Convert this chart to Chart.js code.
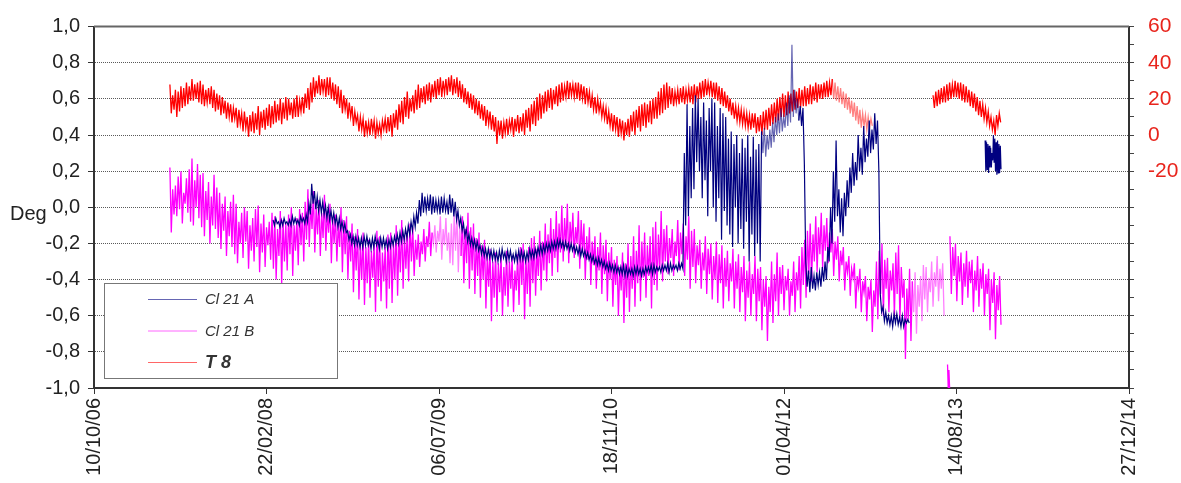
<!DOCTYPE html>
<html>
<head>
<meta charset="utf-8">
<title>Cl 21 A / Cl 21 B / T 8</title>
<script src="https://cdn.jsdelivr.net/npm/chart.js@4.4.1/dist/chart.umd.min.js"></script>
<style>
  html, body { margin: 0; padding: 0; background: #fff; }
  #wrap { position: relative; width: 1181px; height: 483px; }
</style>
</head>
<body>
<div id="wrap"><canvas id="chart"></canvas></div>
<script>
// x axis is days counted from the first tick date
const origin = '2006-10-10';
const xTickLabels = ['10/10/06', '22/02/08', '06/07/09', '18/11/10', '01/04/12', '14/08/13', '27/12/14'];
const rightTickLabels = [-20, 0, 20, 40, 60];
const axisTitle = 'Deg';
const seriesNames = ['Cl 21 A', 'Cl 21 B', 'T 8'];

// each series is read as a high and a low reading per step (8 days unless noted)

// T 8 (right axis)
const t8Start1 = '2007-05-18';
const t8Hi1 = [28,22, 25,24, 27,26, 29,27, 31,28, 29,30, 28,25, 26,27, 25,23, 22,21,
  19,18, 17,15, 15,14, 12,13, 10,11, 13,12, 16,13, 14,15, 17,16, 19,17,
  20,18, 21,20, 18,20, 22,19, 21,23, 26,29, 32,30, 33,31, 31,32, 32,29,
  28,27, 25,22, 20,18, 16,13, 11,10, 9,8, 7,9, 8,7, 6,8, 9,10,
  11,12, 14,17, 19,21, 24,20, 22,25, 28,26, 27,28, 29,28, 30,31, 32,30,
  31,32, 33,31, 32,30, 28,26, 24,23, 22,20, 19,17, 16,14, 13,11, 10,8,
  8,7, 9,8, 10,9, 11,10, 12,14, 15,17, 19,21, 23,22, 24,25, 26,25,
  27,28, 29,27, 30,29, 28,29, 29,28, 27,26, 24,22, 21,20, 18,16, 15,13,
  12,11, 10,9, 8,7, 9,11, 13,14, 16,17, 18,17, 19,20, 21,24, 26,28,
  29,27, 26,24, 25,26, 27,25, 26,27, 28,27, 29,30, 31,29, 30,29, 29,27,
  26,24, 22,20, 18,16, 15,14, 13,12, 11,12, 12,10, 11,13, 14,15, 17,18,
  20,21, 23,22, 24,23, 25,24, 26,25, 27,26, 28,27, 29,28, 28,29, 30,29,
  31,29, 27,26, 24,23, 21,19, 18,16, 14,12, 11,10, 9];
const t8Lo1 = [12,14, 10,13, 15,16, 17,19, 19,20, 18,17, 16,18, 17,15, 13,14, 11,12,
  9,10, 7,9, 4,6, 2,4, -1,2, 1,3, 0,4, 3,5, 4,6, 7,8,
  6,9, 8,11, 9,10, 10,13, 12,15, 14,18, 21,23, 22,24, 21,22, 20,19,
  17,15, 12,14, 9,10, 5,7, 2,3, -1,1, 0,2, -2,1, 0,3, 1,2,
  -1,4, 3,7, 6,10, 9,13, 12,14, 15,18, 17,19, 18,21, 20,22, 21,23,
  22,24, 22,23, 21,20, 18,17, 15,14, 12,11, 9,8, 5,6, 3,2, -5,0,
  -2,1, 0,3, -1,2, 1,2, 0,4, 2,6, 5,8, 9,12, 13,15, 14,17,
  16,18, 19,21, 20,22, 21,20, 19,20, 17,18, 15,14, 12,13, 10,9, 6,5,
  2,3, -1,1, -3,0, -1,2, 0,4, 2,5, 4,7, 6,9, 9,11, 12,14,
  15,17, 16,18, 17,18, 17,19, 18,17, 18,20, 20,21, 22,23, 21,20, 19,17,
  16,15, 13,11, 9,8, 7,6, 5,4, 3,4, 1,2, 0,3, 3,5, 6,7,
  8,10, 10,11, 12,13, 14,15, 15,16, 16,17, 17,19, 18,20, 20,21, 21,22,
  20,19, 18,17, 15,14, 12,10, 8,6, 4,5, 3,4, 5];
const t8Start2 = '2013-06-07';
const t8Hi2 = [22,24, 25,26, 27,28, 29,28, 30,29, 29,28, 27,25, 24,23, 21,19, 17,15, 13,10, 8,11, 12];
const t8Lo2 = [15,16, 17,18, 18,19, 20,21, 21,20, 19,18, 18,16, 15,13, 11,10, 9,7, 5,3, 0,5, 7];

// Cl 21 B
const bStart1 = '2007-05-18';
const bHi1 = [0.22,0.10, 0.12,0.17, 0.20,0.08, 0.16,0.21, 0.27,0.15, 0.24,0.18, 0.19,0.09, 0.14,0.06, 0.18,0.11, 0.08,0.02,
  0.06,-0.02, 0.03,0.07, 0.02,-0.08, -0.03,0.00, -0.02,-0.10, -0.06,-0.01, 0.01,-0.09, -0.04,-0.11, -0.08,-0.03, -0.05,-0.12,
  -0.02,-0.07, -0.09,-0.04, 0.00,-0.10, -0.06,-0.01, -0.03,0.03, 0.10,0.02, 0.09,0.00, 0.04,-0.03, 0.07,-0.02, 0.02,-0.06,
  -0.04,-0.09, 0.00,-0.07, -0.05,-0.13, -0.09,-0.16, -0.12,-0.20, -0.14,-0.22, -0.18,-0.24, -0.20,-0.13, -0.16,-0.25, -0.22,-0.15,
  -0.14,-0.20, -0.10,-0.17, -0.07,-0.16, -0.13,-0.09, -0.11,-0.18, -0.15,-0.19, -0.12,-0.16, -0.08,-0.14, -0.10,-0.13, -0.05,-0.12,
  -0.06,-0.14, -0.09,-0.04, -0.02,-0.10, -0.05,-0.12, -0.03,-0.11, -0.09,-0.17, -0.14,-0.21, -0.18,-0.26, -0.23,-0.30, -0.25,-0.31,
  -0.27,-0.33, -0.24,-0.30, -0.28,-0.35, -0.26,-0.22, -0.20,-0.28, -0.22,-0.17, -0.16,-0.23, -0.13,-0.19, -0.09,-0.15, -0.06,-0.12,
  -0.02,-0.09, 0.01,-0.06, 0.02,-0.08, -0.03,-0.11, -0.02,-0.07, -0.09,-0.16, -0.11,-0.19, -0.16,-0.22, -0.14,-0.21, -0.18,-0.25,
  -0.22,-0.29, -0.27,-0.33, -0.25,-0.31, -0.20,-0.27, -0.16,-0.24, -0.10,-0.19, -0.14,-0.21, -0.16,-0.11, -0.08,-0.15, -0.02,-0.12,
  -0.10,-0.17, -0.12,-0.19, -0.07,-0.14, -0.09,-0.16, -0.05,-0.13, -0.12,-0.21, -0.18,-0.25, -0.16,-0.23, -0.20,-0.27, -0.19,-0.26,
  -0.21,-0.28, -0.24,-0.31, -0.23,-0.30, -0.26,-0.33, -0.27,-0.35, -0.30,-0.37, -0.27,-0.34, -0.33,-0.40, -0.38,-0.44, -0.30,-0.37,
  -0.25,-0.33, -0.32,-0.38, -0.34,-0.41, -0.30,-0.36, -0.27,-0.22, -0.18,-0.13, -0.09,-0.15, -0.05,-0.11, -0.03,-0.10, -0.06,-0.14,
  -0.12,-0.19, -0.16,-0.24, -0.22,-0.30, -0.27,-0.34, -0.31,-0.38, -0.34,-0.41, -0.38,-0.44, -0.40,-0.46, -0.30,-0.24, -0.20,-0.29,
  -0.28,-0.35, -0.31,-0.25, -0.21,-0.33, -0.40,-0.45, -0.34,-0.41, -0.36,-0.43, -0.38,-0.32, -0.33,-0.39, -0.30,-0.36, -0.27,-0.34,
  -0.31];
const bLo1 = [-0.14,-0.04, -0.05,-0.01, -0.09,0.02, -0.03,-0.08, -0.10,0.00, -0.06,-0.11, -0.16,-0.07, -0.20,-0.10, -0.12,-0.17, -0.23,-0.13,
  -0.27,-0.16, -0.22,-0.26, -0.31,-0.20, -0.28,-0.19, -0.34,-0.24, -0.30,-0.22, -0.36,-0.25, -0.33,-0.21, -0.29,-0.34, -0.40,-0.27,
  -0.43,-0.30, -0.35,-0.26, -0.38,-0.24, -0.32,-0.21, -0.30,-0.18, -0.22,-0.12, -0.25,-0.15, -0.27,-0.17, -0.24,-0.14, -0.31,-0.20,
  -0.30,-0.22, -0.36,-0.26, -0.40,-0.30, -0.47,-0.35, -0.51,-0.40, -0.54,-0.42, -0.50,-0.39, -0.58,-0.44, -0.52,-0.41, -0.56,-0.45,
  -0.53,-0.40, -0.49,-0.36, -0.45,-0.34, -0.41,-0.30, -0.38,-0.29, -0.33,-0.26, -0.30,-0.22, -0.27,-0.20, -0.25,-0.19, -0.29,-0.21,
  -0.24,-0.31, -0.32,-0.24, -0.36,-0.27, -0.42,-0.31, -0.45,-0.35, -0.48,-0.38, -0.50,-0.40, -0.56,-0.44, -0.63,-0.50, -0.58,-0.47,
  -0.60,-0.49, -0.55,-0.45, -0.58,-0.46, -0.54,-0.43, -0.62,-0.48, -0.55,-0.42, -0.49,-0.38, -0.46,-0.35, -0.41,-0.31, -0.38,-0.28,
  -0.36,-0.25, -0.30,-0.22, -0.31,-0.21, -0.28,-0.20, -0.34,-0.25, -0.40,-0.29, -0.43,-0.32, -0.45,-0.35, -0.48,-0.37, -0.52,-0.40,
  -0.55,-0.43, -0.60,-0.46, -0.64,-0.50, -0.58,-0.45, -0.55,-0.42, -0.52,-0.39, -0.50,-0.38, -0.56,-0.43, -0.46,-0.34, -0.41,-0.30,
  -0.37,-0.28, -0.38,-0.27, -0.35,-0.26, -0.38,-0.29, -0.45,-0.33, -0.42,-0.32, -0.45,-0.35, -0.48,-0.37, -0.51,-0.40, -0.53,-0.42,
  -0.56,-0.44, -0.52,-0.41, -0.56,-0.45, -0.58,-0.47, -0.63,-0.50, -0.60,-0.48, -0.63,-0.52, -0.68,-0.55, -0.74,-0.58, -0.64,-0.52,
  -0.60,-0.48, -0.57,-0.46, -0.60,-0.49, -0.58,-0.46, -0.56,-0.43, -0.50,-0.37, -0.41,-0.30, -0.36,-0.26, -0.34,-0.24, -0.31,-0.25,
  -0.38,-0.29, -0.41,-0.32, -0.46,-0.36, -0.49,-0.39, -0.56,-0.44, -0.58,-0.47, -0.63,-0.51, -0.69,-0.55, -0.62,-0.48, -0.60,-0.45,
  -0.58,-0.46, -0.60,-0.48, -0.63,-0.50, -0.84,-0.62, -0.74,-0.58, -0.70,-0.55, -0.63,-0.51, -0.58,-0.47, -0.55,-0.44, -0.52,-0.45,
  -0.60];
const bStart2 = '2013-07-19'; // short drop at the bottom edge, 4-day step
const bHi2 = [-0.87, -0.90];
const bLo2 = [-1.0, -1.0];
const bStart3 = '2013-07-26';
const bHi3 = [-0.16,-0.22, -0.20,-0.27, -0.25,-0.31, -0.24,-0.30, -0.29,-0.35, -0.27,-0.34, -0.31,-0.37, -0.34,-0.40, -0.36,-0.43, -0.38];
const bLo3 = [-0.48,-0.38, -0.52,-0.41, -0.54,-0.44, -0.50,-0.42, -0.58,-0.46, -0.55,-0.45, -0.60,-0.48, -0.68,-0.53, -0.73,-0.57, -0.65];

// Cl 21 A
const aStart1 = '2008-03-12';
const aHi1 = [-0.07,-0.06, -0.08,-0.07, -0.06,-0.08, -0.07,-0.05, -0.06,-0.07, -0.05,-0.06, -0.04,0.02, 0.13,0.09, 0.06,0.04, 0.03,0.01,
  0.00,-0.02, -0.03,-0.05, -0.06,-0.08, -0.09,-0.13, -0.15,-0.16, -0.16,-0.17, -0.17,-0.16, -0.16,-0.18, -0.17,-0.16, -0.18,-0.17,
  -0.17,-0.18, -0.18,-0.17, -0.16,-0.15, -0.14,-0.13, -0.12,-0.10, -0.08,-0.05, -0.03,0.04, 0.08,0.06, 0.05,0.07, 0.06,0.04,
  0.04,0.06, 0.05,0.03, 0.07,0.05, 0.03,-0.02, -0.06,-0.09, -0.12,-0.15, -0.17,-0.18, -0.19,-0.21, -0.22,-0.23, -0.23,-0.24,
  -0.24,-0.25, -0.24,-0.23, -0.25,-0.24, -0.24,-0.26, -0.25,-0.24, -0.24,-0.25, -0.25,-0.23, -0.24,-0.23, -0.22,-0.21, -0.21,-0.20,
  -0.20,-0.19, -0.19,-0.18, -0.18,-0.19, -0.19,-0.20, -0.20,-0.21, -0.22,-0.22, -0.23,-0.24, -0.25,-0.26, -0.27,-0.28, -0.28,-0.29,
  -0.30,-0.31, -0.31,-0.32, -0.32,-0.33, -0.33,-0.32, -0.33,-0.34, -0.34,-0.33, -0.33,-0.34, -0.34,-0.33, -0.33,-0.32, -0.32,-0.33,
  -0.33,-0.32, -0.32,-0.31, -0.31,-0.32, -0.32,-0.31, -0.31,0.30, 0.57,0.45, 0.55,0.62, 0.60,0.50, 0.58,0.48, 0.55,0.60,
  0.58,0.45, 0.55,0.52, 0.50,0.38, 0.42,0.35, 0.40,0.30, 0.38,0.33, 0.40,0.28, 0.39,0.32, 0.35,0.42, 0.44,0.40,
  0.43,0.47, 0.50,0.52, 0.55,0.50, 0.58,0.62, 0.90,0.65, 0.60,0.56, 0.55,-0.30, -0.35,-0.33, -0.38,-0.36, -0.36,-0.33,
  -0.30,-0.22, 0.00,0.20, 0.37,0.10, 0.05,0.08, 0.15,0.22, 0.30,0.25, 0.40,0.33, 0.45,0.38, 0.48,0.43, 0.52,0.48,
  -0.48,-0.55, -0.58,-0.60, -0.60,-0.59, -0.59,-0.61, -0.60,-0.62,
  -0.62];
const aLo1 = [-0.10,-0.09, -0.11,-0.10, -0.09,-0.10, -0.10,-0.09, -0.09,-0.10, -0.08,-0.09, -0.08,-0.04, 0.02,-0.01, -0.02,-0.03, -0.04,-0.06,
  -0.07,-0.08, -0.09,-0.11, -0.12,-0.13, -0.14,-0.18, -0.20,-0.21, -0.21,-0.22, -0.22,-0.21, -0.21,-0.23, -0.22,-0.21, -0.23,-0.22,
  -0.22,-0.23, -0.22,-0.21, -0.20,-0.20, -0.19,-0.18, -0.17,-0.15, -0.13,-0.11, -0.09,-0.05, -0.03,-0.02, -0.02,-0.04, -0.03,-0.02,
  -0.04,-0.03, -0.02,-0.04, -0.03,-0.05, -0.07,-0.10, -0.13,-0.16, -0.19,-0.21, -0.22,-0.23, -0.24,-0.26, -0.27,-0.28, -0.28,-0.29,
  -0.29,-0.30, -0.29,-0.28, -0.30,-0.29, -0.29,-0.30, -0.30,-0.29, -0.29,-0.30, -0.29,-0.28, -0.28,-0.27, -0.26,-0.26, -0.25,-0.24,
  -0.24,-0.23, -0.23,-0.22, -0.22,-0.23, -0.23,-0.24, -0.24,-0.25, -0.26,-0.27, -0.27,-0.28, -0.29,-0.30, -0.31,-0.32, -0.32,-0.33,
  -0.34,-0.35, -0.35,-0.36, -0.36,-0.37, -0.37,-0.38, -0.38,-0.37, -0.38,-0.37, -0.37,-0.38, -0.37,-0.36, -0.36,-0.37, -0.36,-0.35,
  -0.36,-0.35, -0.35,-0.36, -0.35,-0.34, -0.35,-0.34, -0.34,-0.10, -0.05,0.05, 0.10,0.25, 0.20,0.05, 0.15,-0.05, 0.20,0.00,
  -0.08,0.05, -0.18,-0.02, -0.10,-0.15, -0.22,0.00, -0.20,-0.12, -0.23,-0.08, -0.30,-0.15, -0.27,-0.20, -0.30,0.30, 0.28,0.32,
  0.33,0.36, 0.40,0.41, 0.42,0.44, 0.45,0.47, 0.50,0.52, 0.48,0.45, 0.24,-0.44, -0.47,-0.45, -0.46,-0.43, -0.44,-0.41,
  -0.40,-0.30, -0.20,-0.08, -0.05,-0.14, -0.16,-0.05, 0.00,0.08, 0.12,0.15, 0.20,0.18, 0.25,0.28, 0.30,0.32, 0.35,0.20,
  -0.58,-0.63, -0.64,-0.65, -0.66,-0.64, -0.65,-0.66, -0.66,-0.64,
  -0.64];
const aStart2 = '2013-11-05'; // 4-day step
const aHi2 = [0.37,0.36,0.35,0.34,0.33,0.30,0.40,0.38,0.36,0.37,0.35,0.34];
const aLo2 = [0.20,0.21,0.19,0.22,0.22,0.26,0.25,0.20,0.18,0.19,0.19,0.21];

function dayOf(dateStr) {
  return (Date.parse(dateStr) - Date.parse(origin)) / 864e5;
}

// high reading, then low reading half a step later
function zigzag(start, step, hi, lo) {
  const d0 = dayOf(start);
  const pts = [];
  hi.forEach((h, i) => {
    pts.push({ x: d0 + i * step, y: h });
    pts.push({ x: d0 + i * step + step / 2, y: lo[i] });
  });
  return pts;
}

// null point between pieces so the line breaks
function joinSegments(...segs) {
  const out = [];
  segs.forEach((s, i) => {
    if (i > 0) out.push({ x: s[0].x - 0.5, y: null });
    out.push(...s);
  });
  return out;
}

const seriesA = joinSegments(zigzag(aStart1, 8, aHi1, aLo1), zigzag(aStart2, 4, aHi2, aLo2));
const seriesB = joinSegments(zigzag(bStart1, 8, bHi1, bLo1), zigzag(bStart2, 4, bHi2, bLo2), zigzag(bStart3, 8, bHi3, bLo3));
const seriesT = joinSegments(zigzag(t8Start1, 8, t8Hi1, t8Lo1), zigzag(t8Start2, 8, t8Hi2, t8Lo2));

const colors = ['#000080', '#ff00ff', '#ff0000'];

// stretches where the original trace is sparser and reads paler
function paleIn(ranges, pale) {
  return {
    borderColor: (c) => ranges.some(([a, b]) => c.p0.parsed.x >= dayOf(a) && c.p0.parsed.x <= dayOf(b)) ? pale : undefined
  };
}

Chart.defaults.font.family = '"Liberation Sans", Arial, sans-serif';
Chart.defaults.color = '#222';

const decorations = {
    id: 'decorations',
    afterDraw(chart) {
        const { ctx, chartArea: a } = chart;
        ctx.save();

        // top edge of the frame
        ctx.strokeStyle = '#666';
        ctx.lineWidth = 2;
        ctx.beginPath();
        ctx.moveTo(a.left, a.top);
        ctx.lineTo(a.right, a.top);
        ctx.stroke();

        // left axis title, written flat
        ctx.font = '20px "Liberation Sans", Arial, sans-serif';
        ctx.fillStyle = '#222';
        ctx.textAlign = 'left';
        ctx.textBaseline = 'alphabetic';
        ctx.fillText(axisTitle, 10, 220);

        // legend box inside the plot
        const bx = a.left + 10, by = a.bottom - 105, bw = 233, bh = 95;
        ctx.fillStyle = '#fff';
        ctx.fillRect(bx, by, bw, bh);
        ctx.strokeStyle = '#777';
        ctx.lineWidth = 1;
        ctx.strokeRect(bx + 0.5, by + 0.5, bw, bh);

        const fonts = ['italic 15px "Liberation Sans", Arial, sans-serif',
                       'italic 15px "Liberation Sans", Arial, sans-serif',
                       'italic bold 18px "Liberation Sans", Arial, sans-serif'];
        seriesNames.forEach((name, i) => {
            const ly = by + 16 + i * 31.5;
            ctx.strokeStyle = colors[i];
            ctx.globalAlpha = 0.6;
            ctx.beginPath();
            ctx.moveTo(bx + 44, ly + 0.5);
            ctx.lineTo(bx + 93, ly + 0.5);
            ctx.stroke();
            ctx.globalAlpha = 1;
            ctx.font = fonts[i];
            ctx.fillStyle = '#333';
            ctx.textBaseline = 'middle';
            ctx.fillText(name, bx + 101, ly + 1);
        });
        ctx.restore();
    }
};

new Chart(document.getElementById('chart'), {
    type: 'line',
    data: {
        datasets: [
            { label: seriesNames[0], data: seriesA, borderColor: colors[0], borderWidth: 1.2, yAxisID: 'y',
              segment: paleIn([['2012-01-27', '2012-05-11']], 'rgba(0,0,128,0.6)') },
            { label: seriesNames[1], data: seriesB, borderColor: colors[1], borderWidth: 1.3, yAxisID: 'y',
              segment: paleIn([['2009-06-16', '2009-09-04'], ['2013-04-06', '2013-07-15']], 'rgba(255,0,255,0.5)') },
            { label: seriesNames[2], data: seriesT, borderColor: colors[2], borderWidth: 1.3, yAxisID: 'y2',
              segment: paleIn([['2012-08-19', '2013-01-31']], 'rgba(255,0,0,0.5)') }
        ]
    },
    options: {
        responsive: true,
        maintainAspectRatio: false,
        animation: false,
        events: [],
        layout: { padding: { top: 22, left: 0, right: 0, bottom: 0 } },
        elements: {
            line: { borderWidth: 1, tension: 0 },
            point: { radius: 0 }
        },
        spanGaps: false,
        plugins: {
            legend: { display: false },
            tooltip: { enabled: false }
        },
        scales: {
            x: {
                type: 'linear',
                min: 0,
                max: 3000,
                afterFit: (s) => { s.height = 95; },
                grid: { drawOnChartArea: false, tickLength: 6, tickColor: '#333' },
                border: { color: '#333', width: 2 },
                ticks: {
                    stepSize: 500,
                    autoSkip: false,
                    minRotation: 90,
                    maxRotation: 90,
                    padding: 4,
                    font: { size: 20 },
                    callback: (v) => xTickLabels[Math.round(v / 500)] || ''
                }
            },
            y: {
                position: 'left',
                min: -1,
                max: 1,
                afterFit: (s) => { s.width = 94; },
                grid: { color: '#5a5a5a', tickColor: '#333', tickLength: 6, tickBorderDash: [] },
                border: { color: '#333', width: 2, dash: [1, 1] },
                ticks: {
                    stepSize: 0.2,
                    padding: 8,
                    font: { size: 20 },
                    callback: (v) => v.toFixed(1).replace('.', ',')
                }
            },
            y2: {
                position: 'right',
                min: -140,
                max: 60,
                afterFit: (s) => { s.width = 52; },
                grid: { drawOnChartArea: false, tickColor: '#444', tickLength: 5 },
                border: { color: '#333', width: 2 },
                ticks: {
                    stepSize: 10,
                    autoSkip: false,
                    padding: 14,
                    color: '#e8241c',
                    font: { size: 21 },
                    callback: (v) => rightTickLabels.includes(v) ? String(v) : ''
                }
            }
        }
    },
    plugins: [decorations]
});
</script>
</body>
</html>
